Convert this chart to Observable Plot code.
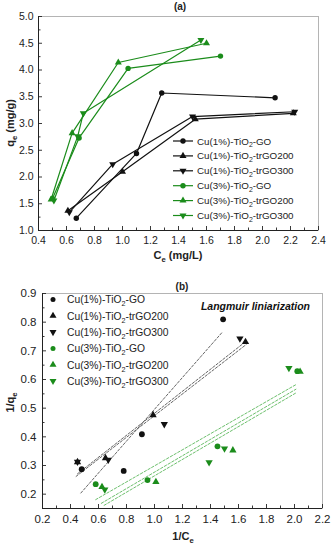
<!DOCTYPE html>
<html><head><meta charset="utf-8">
<script src="https://cdn.jsdelivr.net/npm/d3@7"></script>
<script src="https://cdn.jsdelivr.net/npm/@observablehq/plot@0.6"></script>
<style>body{margin:0;background:#fff} svg{display:block}</style>
</head><body><div id="chart"></div><script>
// ---------- data ----------
const names = ["Cu(1%)-TiO2-GO", "Cu(1%)-TiO2-trGO200", "Cu(1%)-TiO2-trGO300",
               "Cu(3%)-TiO2-GO", "Cu(3%)-TiO2-trGO200", "Cu(3%)-TiO2-trGO300"];
const shapes = ["circle", "up", "down", "circle", "up", "down"];

// panel (a): Ce (mg/L) and qe (mg/g)
const ceA1GO   = [0.67, 1.10, 1.28, 2.09];
const qeA1GO   = [1.23, 2.44, 3.57, 3.48];
const ceA1T200 = [0.61, 1.00, 1.52, 2.22];
const qeA1T200 = [1.37, 2.10, 3.08, 3.19];
const ceA1T300 = [0.62, 0.93, 1.50, 2.23];
const qeA1T300 = [1.34, 2.24, 3.13, 3.22];
const ceA3GO   = [0.50, 0.69, 1.04, 1.70];
const qeA3GO   = [1.60, 2.73, 4.03, 4.26];
const ceA3T200 = [0.49, 0.64, 0.97, 1.60];
const qeA3T200 = [1.58, 2.82, 4.14, 4.50];
const ceA3T300 = [0.51, 0.68, 0.72, 1.56];
const qeA3T300 = [1.56, 2.76, 3.19, 4.56];

// panel (b): 1/Ce and 1/qe
const invCB1GO   = [0.48, 0.78, 0.91, 1.49];
const invQB1GO   = [0.287, 0.281, 0.409, 0.810];
const invCB1T200 = [0.45, 0.65, 0.99, 1.65];
const invQB1T200 = [0.312, 0.326, 0.476, 0.731];
const invCB1T300 = [0.45, 0.67, 1.07, 1.61];
const invQB1T300 = [0.313, 0.320, 0.444, 0.743];
const invCB3GO   = [0.58, 0.95, 1.45, 2.02];
const invQB3GO   = [0.235, 0.249, 0.367, 0.629];
const invCB3T200 = [0.625, 1.01, 1.56, 2.04];
const invQB3T200 = [0.225, 0.243, 0.353, 0.627];
const invCB3T300 = [0.645, 1.39, 1.50, 1.96];
const invQB3T300 = [0.216, 0.311, 0.359, 0.640];

// panel (b): linear fit lines (end points)
const fitX1GO   = [0.474, 1.486], fitY1GO   = [0.204, 0.766];
const fitX1T200 = [0.44, 1.655],  fitY1T200 = [0.262, 0.722];
const fitX1T300 = [0.45, 1.64],   fitY1T300 = [0.271, 0.728];
const fitX3GO   = [0.58, 2.01],   fitY3GO   = [0.181, 0.582];
const fitX3T200 = [0.62, 2.01],   fitY3T200 = [0.168, 0.566];
const fitX3T300 = [0.64, 2.01],   fitY3T300 = [0.161, 0.553];

// ticks
const xTicksA = [0.4,0.6,0.8,1.0,1.2,1.4,1.6,1.8,2.0,2.2,2.4];
const xMinorA = [0.5,0.7,0.9,1.1,1.3,1.5,1.7,1.9,2.1,2.3];
const yTicksA = [1.0,1.5,2.0,2.5,3.0,3.5,4.0,4.5,5.0];
const yMinorA = [1.25,1.75,2.25,2.75,3.25,3.75,4.25,4.75];
const xTicksB = [0.2,0.4,0.6,0.8,1.0,1.2,1.4,1.6,1.8,2.0,2.2];
const xMinorB = [0.3,0.5,0.7,0.9,1.1,1.3,1.5,1.7,1.9,2.1];
const yTicksB = [0.2,0.3,0.4,0.5,0.6,0.7,0.8,0.9];
const yMinorB = [0.15,0.25,0.35,0.45,0.55,0.65,0.75,0.85];

// ---------- tables ----------
const ceA = [ceA1GO, ceA1T200, ceA1T300, ceA3GO, ceA3T200, ceA3T300];
const qeA = [qeA1GO, qeA1T200, qeA1T300, qeA3GO, qeA3T200, qeA3T300];
const icB = [invCB1GO, invCB1T200, invCB1T300, invCB3GO, invCB3T200, invCB3T300];
const iqB = [invQB1GO, invQB1T200, invQB1T300, invQB3GO, invQB3T200, invQB3T300];
const fxB = [fitX1GO, fitX1T200, fitX1T300, fitX3GO, fitX3T200, fitX3T300];
const fyB = [fitY1GO, fitY1T200, fitY1T300, fitY3GO, fitY3T200, fitY3T300];

const tableA = names.flatMap((s, i) => ceA[i].map((c, j) => ({series: s, shape: shapes[i], x: c, y: qeA[i][j]})));
const tableB = names.flatMap((s, i) => icB[i].map((c, j) => ({series: s, shape: shapes[i], x: c, y: iqB[i][j]})));
const fitB = names.flatMap((s, i) => fxB[i].map((c, j) => ({series: s, grp: i < 3 ? "k" : "g", x: c, y: fyB[i][j]})));

// ---------- styles ----------
const BLACK = "#111", GREEN = "#1b8c1b";
const FIT_BLACK = "#555", FIT_GREEN = "#5cb85c";
const AXIS = "#222", FRAMEC = "#b4b4b4";
const FONT = "'Liberation Sans', Arial, Helvetica, sans-serif";
const color = {domain: names, range: [BLACK, BLACK, BLACK, GREEN, GREEN, GREEN]};

function tickMarks(xMaj, xMin, yMaj, yMin, fw, fh) {
  return [
    Plot.tickX(xMaj, {x: d => d, insetTop: fh - 4, stroke: AXIS, strokeWidth: 0.9}),
    Plot.tickX(xMin, {x: d => d, insetTop: fh - 2.5, stroke: AXIS, strokeWidth: 0.9}),
    Plot.tickY(yMaj, {y: d => d, insetRight: fw - 4, stroke: AXIS, strokeWidth: 0.9}),
    Plot.tickY(yMin, {y: d => d, insetRight: fw - 2.5, stroke: AXIS, strokeWidth: 0.9})
  ];
}
function dotMarks(data, rc, rt) {
  return [
    Plot.dot(data.filter(d => d.shape === "circle"), {x: "x", y: "y", fill: "series", r: rc, symbol: "circle"}),
    Plot.dot(data.filter(d => d.shape === "up"), {x: "x", y: "y", fill: "series", r: rt, symbol: "triangle"}),
    Plot.dot(data.filter(d => d.shape === "down"), {x: "x", y: "y", fill: "series", r: rt, symbol: "triangle", rotate: 180})
  ];
}

// ---------- panel (a) ----------
const A = {w: 333, h: 270, ml: 38, mr: 15, mt: 16, mb: 40};
const fwA = A.w - A.ml - A.mr, fhA = A.h - A.mt - A.mb;
const svgA = Plot.plot({
  width: A.w, height: A.h, marginLeft: A.ml, marginRight: A.mr, marginTop: A.mt, marginBottom: A.mb,
  style: {fontFamily: FONT, fontSize: "10.5px", color: AXIS, background: "white", overflow: "visible"},
  x: {domain: [xTicksA[0], xTicksA[xTicksA.length - 1]]},
  y: {domain: [yTicksA[0], yTicksA[yTicksA.length - 1]]},
  color,
  marks: [
    Plot.frame({stroke: FRAMEC}),
    Plot.ruleX([xTicksA[0]], {stroke: AXIS, strokeWidth: 1}),
    Plot.ruleY([yTicksA[0]], {stroke: AXIS, strokeWidth: 1}),
    ...tickMarks(xTicksA, xMinorA, yTicksA, yMinorA, fwA, fhA),
    Plot.axisX({ticks: xTicksA, tickSize: 0, tickPadding: 6, tickFormat: d3.format(".1f"), label: null, fontSize: 10.5}),
    Plot.axisY({ticks: yTicksA, tickSize: 0, tickPadding: 5, tickFormat: d3.format(".1f"), label: null, fontSize: 10.5}),
    Plot.line(tableA, {x: "x", y: "y", z: "series", stroke: "series", strokeWidth: 1.2}),
    ...dotMarks(tableA, 2.7, 2.6)
  ]
});

// ---------- panel (b) ----------
const B = {w: 333, h: 280, ml: 42, mr: 11, mt: 23, mb: 42};
const fwB = B.w - B.ml - B.mr, fhB = B.h - B.mt - B.mb;
const svgB = Plot.plot({
  width: B.w, height: B.h, marginLeft: B.ml, marginRight: B.mr, marginTop: B.mt, marginBottom: B.mb,
  style: {fontFamily: FONT, fontSize: "11.5px", color: AXIS, background: "white", overflow: "visible"},
  x: {domain: [xTicksB[0], xTicksB[xTicksB.length - 1]]},
  y: {domain: [yMinorB[0], yTicksB[yTicksB.length - 1]]},
  color,
  marks: [
    Plot.frame({stroke: FRAMEC}),
    Plot.ruleX([xTicksB[0]], {stroke: AXIS, strokeWidth: 1}),
    Plot.ruleY([yMinorB[0]], {stroke: AXIS, strokeWidth: 1}),
    ...tickMarks(xTicksB, xMinorB, yTicksB, yMinorB, fwB, fhB),
    Plot.axisX({ticks: xTicksB, tickSize: 0, tickPadding: 6.5, tickFormat: d3.format(".1f"), label: null, fontSize: 11.5}),
    Plot.axisY({ticks: yTicksB, tickSize: 0, tickPadding: 6, tickFormat: d3.format(".1f"), label: null, fontSize: 11.5}),
    Plot.line(fitB.filter(d => d.grp === "k"), {x: "x", y: "y", z: "series", stroke: FIT_BLACK, strokeWidth: 0.9, strokeDasharray: "2.5,1.8"}),
    Plot.line(fitB.filter(d => d.grp === "g"), {x: "x", y: "y", z: "series", stroke: FIT_GREEN, strokeWidth: 0.9, strokeDasharray: "2.5,1.8"}),
    ...dotMarks(tableB, 2.9, 2.7)
  ]
});

// ---------- annotations (text with subscripts, legends) ----------
function rich(g, parts, attrs) {
  const t = g.append("text").attr("text-anchor", "start");
  Object.entries(attrs).forEach(([k, v]) => t.attr(k, v));
  const fs = parseFloat(attrs["font-size"] || 10);
  parts.forEach((p, k) => {
    const sub = Array.isArray(p);
    const s = t.append("tspan").text(sub ? p[0] : p);
    if (sub) s.attr("font-size", (fs * 0.7).toFixed(1)).attr("dy", (fs * 0.3).toFixed(1));
    else if (k > 0 && Array.isArray(parts[k - 1])) s.attr("dy", (-fs * 0.3).toFixed(1));
  });
  return t;
}
const legendParts = n => {
  const [pre, post] = n.split("TiO2");
  return [pre + "TiO", ["2"], post];
};
function symbolPath(shape, r) {
  const type = shape === "circle" ? d3.symbolCircle : d3.symbolTriangle;
  return d3.symbol(type, Math.PI * r * r)();
}

// panel (a) annotations
{
  const g = d3.select(svgA).append("g").attr("font-family", FONT).attr("fill", AXIS);
  g.append("text").attr("x", A.ml + fwA / 2 + 2).attr("y", 10).attr("text-anchor", "middle")
    .attr("font-size", 10).attr("font-weight", "bold").text("(a)");
  rich(g, ["C", ["e"], " (mg/L)"], {x: A.ml + fwA / 2, y: 259, "text-anchor": "middle", "font-size": 11, "font-weight": "bold"});
  rich(g, ["q", ["e"], " (mg/g)"], {transform: `translate(14,${A.mt + fhA / 2}) rotate(-90)`, "text-anchor": "middle", "font-size": 11, "font-weight": "bold"});
  names.forEach((n, i) => {
    const cy = 141 + 14.9 * i;
    const c = color.range[i];
    g.append("line").attr("x1", 173).attr("x2", 193).attr("y1", cy).attr("y2", cy).attr("stroke", c).attr("stroke-width", 1.2);
    g.append("path").attr("d", symbolPath(shapes[i], shapes[i] === "circle" ? 2.7 : 2.6))
      .attr("transform", `translate(183,${cy})` + (shapes[i] === "down" ? " rotate(180)" : "")).attr("fill", c);
    rich(g, legendParts(n), {x: 197, y: cy + 3.5, "font-size": 9.8, fill: "#222"});
  });
}
// panel (b) annotations
{
  const g = d3.select(svgB).append("g").attr("font-family", FONT).attr("fill", AXIS);
  g.append("text").attr("x", B.ml + fwB / 2 + 0).attr("y", 20).attr("text-anchor", "middle")
    .attr("font-size", 10).attr("font-weight", "bold").text("(b)");
  rich(g, ["1/C", ["e"]], {x: B.ml + fwB / 2 + 1, y: 270, "text-anchor": "middle", "font-size": 11, "font-weight": "bold"});
  rich(g, ["1/q", ["e"]], {transform: `translate(14,${B.mt + fhB / 2 + 2}) rotate(-90)`, "text-anchor": "middle", "font-size": 11, "font-weight": "bold"});
  g.append("text").attr("x", 310).attr("y", 40).attr("text-anchor", "end").attr("font-size", 10.5)
    .attr("font-weight", "bold").attr("font-style", "italic").attr("fill", "#111").text("Langmuir liniarization");
  names.forEach((n, i) => {
    const cy = 29.5 + 16.3 * i;
    const c = color.range[i];
    g.append("path").attr("d", symbolPath(shapes[i], shapes[i] === "circle" ? 2.5 : 2.6))
      .attr("transform", `translate(53,${cy})` + (shapes[i] === "down" ? " rotate(180)" : "")).attr("fill", c);
    rich(g, legendParts(n), {x: 67, y: cy + 3.8, "font-size": 10.3, fill: "#222"});
  });
}

document.getElementById("chart").append(svgA, svgB);
</script></body></html>
